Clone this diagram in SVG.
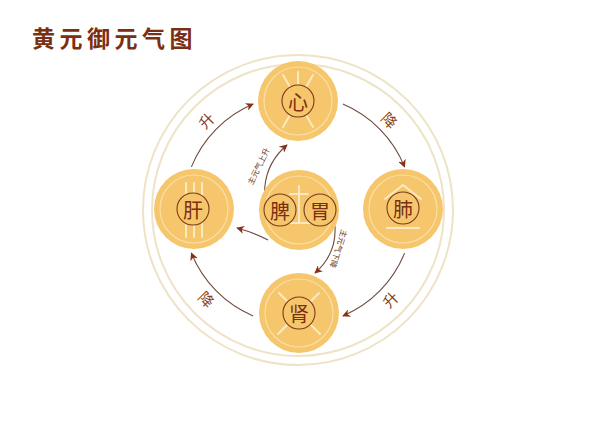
<svg xmlns="http://www.w3.org/2000/svg" width="598" height="421" viewBox="0 0 598 421">
<defs>
<style>
.ring{fill:none;stroke:#eee3c6;stroke-width:2}
.node{fill:#f6c66c}
.inner{fill:none;stroke:#fbdfa4;stroke-width:1.2}
.deco{fill:none;stroke:#fde9c0;stroke-width:2;stroke-linecap:round}
.cc{fill:#f6c66c;stroke:#7a3a1a;stroke-width:1.1}
.ch{font-family:"Noto Sans CJK SC",sans-serif;font-size:20px;fill:#7b2f10;text-anchor:middle;dominant-baseline:central}
.arc{fill:none;stroke:#6e4a3e;stroke-width:1.1;marker-end:url(#ah)}
.lbl{font-family:"Noto Sans CJK SC",sans-serif;font-size:15px;fill:#8a3d1c;text-anchor:middle;dominant-baseline:central}
.sm{font-family:"Noto Sans CJK SC",sans-serif;font-size:8px;fill:#6e3a22;text-anchor:middle;dominant-baseline:central}
</style>
<marker id="ah" viewBox="0 0 10 10" refX="9" refY="5" markerWidth="8" markerHeight="8" orient="auto" markerUnits="userSpaceOnUse">
<path d="M0,0 L10,5 L0,10 L3,5 Z" fill="#8a2e14"/>
</marker>
</defs>
<rect width="598" height="421" fill="#ffffff"/>
<text x="32" y="37" font-family="'Noto Sans CJK SC',sans-serif" font-size="23" font-weight="bold" fill="#7a2e12" letter-spacing="4.5" dominant-baseline="central">黄元御元气图</text>
<g id="rings">
<circle class="ring" cx="298" cy="210" r="155"/>
<circle class="ring" cx="298" cy="210" r="146"/>
</g>
<g id="connectors">
<path class="arc" d="M191.4,166.9 A115,115 0 0 1 253.1,104.1"/>
<path class="arc" d="M342.9,104.1 A115,115 0 0 1 404.6,166.9"/>
<path class="arc" d="M404.6,253.1 A115,115 0 0 1 342.9,315.9"/>
<path class="arc" d="M253.1,315.9 A115,115 0 0 1 191.4,253.1"/>
<path class="arc" d="M278,228 C258,205 260,168 287,145"/>
<path class="arc" d="M335,226 C336,245 330,260 315,273"/>
<path class="arc" d="M268,240 Q255,233 237,228"/>
<text class="lbl" transform="translate(206,120) rotate(-45)">升</text>
<text class="lbl" transform="translate(390,120) rotate(45)">降</text>
<text class="lbl" transform="translate(390,299) rotate(-45)">升</text>
<text class="lbl" transform="translate(207,299) rotate(45)">降</text>
<text class="sm" transform="translate(258,166) rotate(-64)">主元气上升</text>
<text class="sm" transform="translate(339,249) rotate(108)">主元气下降</text>
</g>
<g id="xin">
<circle class="node" cx="298" cy="101" r="40"/>
<circle class="inner" cx="298" cy="101" r="34"/>
<path class="deco" d="M298,84 V72 M289.5,86.3 L283,75 M306.5,86.3 L313,75 M289.5,115.7 L283,127 M306.5,115.7 L313,127"/>
<circle class="cc" cx="298" cy="101" r="16"/>
<text class="ch" x="298" y="101">心</text>
</g>
<g id="gan">
<circle class="node" cx="194" cy="209" r="40"/>
<circle class="inner" cx="194" cy="209" r="34"/>
<path class="deco" d="M186,183 V237 M194,183 V237 M202,183 V237"/>
<circle class="cc" cx="193" cy="209" r="16"/>
<text class="ch" x="193" y="209">肝</text>
</g>
<g id="fei">
<circle class="node" cx="403" cy="209" r="40"/>
<circle class="inner" cx="403" cy="209" r="34"/>
<path class="deco" d="M385,199 L403,185 L421,199 M387,228 H419"/>
<circle class="cc" cx="403" cy="208" r="16"/>
<text class="ch" x="403" y="208">肺</text>
</g>
<g id="shen">
<circle class="node" cx="299" cy="313" r="40"/>
<circle class="inner" cx="299" cy="313" r="34"/>
<path class="deco" d="M287,301 L279,293 M311,301 L319,293 M287,325 L278,334 M311,325 L320,334"/>
<circle class="cc" cx="299" cy="313" r="16"/>
<text class="ch" x="299" y="313">肾</text>
</g>
<g id="piwei">
<circle class="node" cx="299" cy="210" r="40"/>
<circle class="inner" cx="299" cy="210" r="34"/>
<path class="deco" d="M299,186 V223 M290,194 H308 M285,223 H313"/>
<circle class="cc" cx="280" cy="210" r="16"/>
<text class="ch" x="280" y="210">脾</text>
<circle class="cc" cx="320" cy="210" r="16"/>
<text class="ch" x="320" y="210">胃</text>
</g>
</svg>
